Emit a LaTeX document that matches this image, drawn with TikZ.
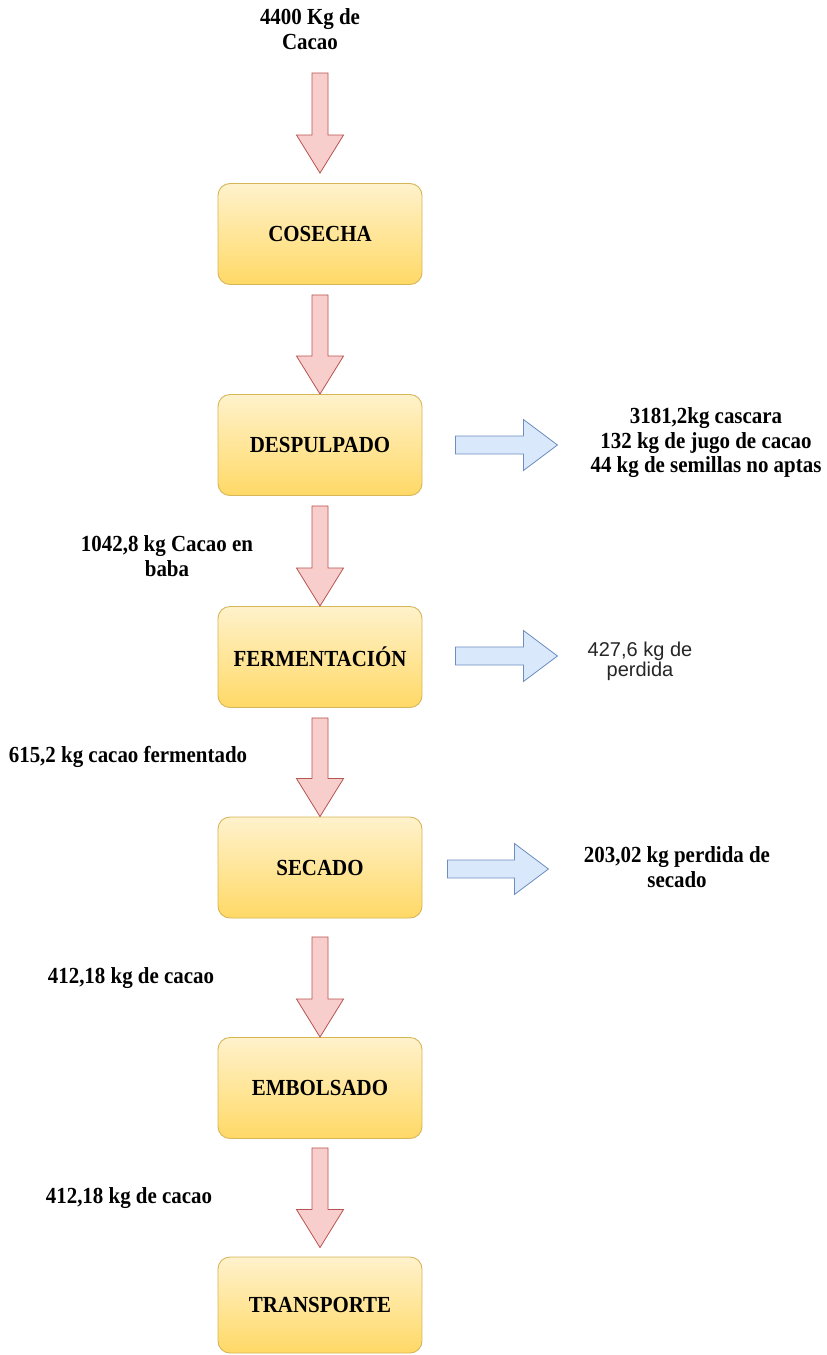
\documentclass[tikz,border=0pt]{standalone}
\usepackage{fontspec}
\setmainfont[FakeStretch=0.91]{Liberation Serif}
\newfontfamily\labsans{Liberation Sans}
\usetikzlibrary{calc}
\definecolor{boxtop}{HTML}{FFF2CC}
\definecolor{boxbot}{HTML}{FFD966}
\definecolor{boxline}{HTML}{D6B656}
\definecolor{redfill}{HTML}{F8CECC}
\definecolor{redline}{HTML}{B85450}
\definecolor{bluefill}{HTML}{DAE8FC}
\definecolor{blueline}{HTML}{6C8EBF}
\tikzset{
  stagebox/.style={rounded corners=12pt, draw=boxline, line width=0.9pt,
    top color=boxtop, bottom color=boxbot, minimum width=204pt,
    minimum height=101pt, inner sep=0pt,
    font=\fontsize{23}{25}\selectfont\bfseries},
  redarrow/.style={draw=redline, fill=redfill, line width=0.8pt, line join=miter},
  bluearrow/.style={draw=blueline, fill=bluefill, line width=0.8pt, line join=miter},
  flowlabel/.style={align=center, inner sep=0pt,
    font=\fontsize{23}{25}\selectfont\bfseries},
  sanslabel/.style={align=center, inner sep=0pt, text=black!85,
    font=\labsans\fontsize{20}{20}\selectfont},
}
\newcommand\downblock[2]{%
  \draw[redarrow] let \p1=(#1), \p2=(#2) in
   (\x1-8pt,\y1) -- (\x1+8pt,\y1) -- (\x1+8pt,\y2+38pt) -- (\x1+23.5pt,\y2+38pt)
   -- (\x1,\y2) -- (\x1-23.5pt,\y2+38pt) -- (\x1-8pt,\y2+38pt) -- cycle;}
\newcommand\rightblock[2]{%
  \draw[bluearrow] let \p1=(#1), \p2=(#2) in
   (\x1,\y1-9pt) -- (\x2-34pt,\y1-9pt) -- (\x2-34pt,\y1-25.5pt) -- (\x2,\y1)
   -- (\x2-34pt,\y1+25.5pt) -- (\x2-34pt,\y1+9pt) -- (\x1,\y1+9pt) -- cycle;}
\begin{document}
\begin{tikzpicture}[x=1pt,y=-1pt]
\useasboundingbox[fill=white] (0,0) rectangle (827,1355);

% stage boxes
\node[stagebox] (cos)   at (320,234)   {COSECHA};
\node[stagebox] (desp)  at (320,445)   {DESPULPADO};
\node[stagebox] (ferm)  at (320,657)   {FERMENTACIÓN};
\node[stagebox] (sec)   at (320,867.5) {SECADO};
\node[stagebox] (emb)   at (320,1088)  {EMBOLSADO};
\node[stagebox, minimum height=96pt] (trans) at (320,1305) {TRANSPORTE};

% input label
\node[flowlabel] (inp) at (310,29) {4400 Kg de\\Cacao};

% down arrows
\coordinate (s0) at (320,73);
\coordinate (t0) at ($(cos.north)+(0,-10)$);
\downblock{s0}{t0}
\coordinate (s1) at ($(cos.south)+(0,10)$);
\downblock{s1}{desp.north}
\coordinate (s2) at ($(desp.south)+(0,10)$);
\downblock{s2}{ferm.north}
\coordinate (s3) at ($(ferm.south)+(0,10)$);
\downblock{s3}{sec.north}
\coordinate (s4) at ($(emb.north)+(0,-100)$);
\downblock{s4}{emb.north}
\coordinate (s5) at ($(emb.south)+(0,9)$);
\coordinate (t5) at ($(trans.north)+(0,-9)$);
\downblock{s5}{t5}

% flow labels
\node[flowlabel] (l2) at (167,556) {1042,8 kg Cacao en\\baba};
\node[flowlabel] (l3) at (128,757) {615,2 kg cacao fermentado};
\node[flowlabel] (l4) at (131,978) {412,18 kg de cacao};
\node[flowlabel] (l5) at (129,1198) {412,18 kg de cacao};

% outputs
\coordinate (r1s) at ($(desp.east)+(33,0)$);
\coordinate (r1t) at ($(desp.east)+(135,0)$);
\rightblock{r1s}{r1t}
\node[flowlabel, font=\fontsize{23}{24.5}\selectfont\bfseries] (o1) at (706,443)
  {3181,2kg cascara\\132 kg de jugo de cacao\\44 kg de semillas no aptas};

\coordinate (r2s) at ($(ferm.east)+(33,-1)$);
\coordinate (r2t) at ($(ferm.east)+(135,-1)$);
\rightblock{r2s}{r2t}
\node[sanslabel] (o2) at (640,661) {427,6 kg de\\perdida};

\coordinate (r3s) at ($(sec.east)+(25,1.5)$);
\coordinate (r3t) at ($(sec.east)+(126,1.5)$);
\rightblock{r3s}{r3t}
\node[flowlabel] (o3) at (677,867) {203,02 kg perdida de\\secado};
\end{tikzpicture}
\end{document}
